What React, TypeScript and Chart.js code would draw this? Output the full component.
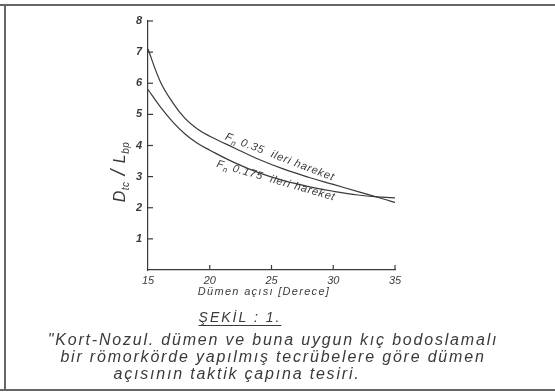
import React, { useEffect, useRef } from "react";
import { Chart, registerables } from "chart.js";

Chart.register(...registerables);

// Rudder angle (degrees) and tactical diameter ratio Dtc/Lbp
const rudderAngles = [15, 16, 17, 18, 19, 20, 22, 24, 26, 28, 30, 32, 34, 35];
const fn035 = [7.1, 6.05, 5.38, 4.87, 4.53, 4.3, 3.92, 3.55, 3.24, 2.98, 2.75, 2.52, 2.29, 2.17];
const fn0175 = [5.8, 5.24, 4.76, 4.37, 4.07, 3.85, 3.45, 3.12, 2.87, 2.68, 2.53, 2.41, 2.34, 2.32];

const xTicks = [15, 20, 25, 30, 35];
const yTicks = [1, 2, 3, 4, 5, 6, 7, 8];

const curveLabels = [
  { main: "F", sub: "n", rest: " 0.35  ileri hareket", x: 21.2, y: 4.2, angle: 21 },
  { main: "F", sub: "n", rest: " 0.175  ileri hareket", x: 20.5, y: 3.32, angle: 16 },
];

const INK = "#3a3a3a";
const HAND = "'Liberation Sans', 'DejaVu Sans', sans-serif";

const decorPlugin = {
  id: "decor",
  afterDraw(chart: any) {
    const { ctx, scales } = chart;
    const xs = scales.x;
    const ys = scales.y;
    ctx.save();
    ctx.strokeStyle = INK;
    ctx.lineWidth = 1.2;
    // inward tick marks
    yTicks.forEach((v) => {
      const py = ys.getPixelForValue(v);
      ctx.beginPath();
      ctx.moveTo(xs.left, py);
      ctx.lineTo(xs.left + 5, py);
      ctx.stroke();
    });
    xTicks.slice(1).forEach((v) => {
      const px = xs.getPixelForValue(v);
      ctx.beginPath();
      ctx.moveTo(px, ys.bottom);
      ctx.lineTo(px, ys.bottom - 5);
      ctx.stroke();
    });

    // curve labels
    ctx.fillStyle = INK;
    (ctx as any).letterSpacing = "0.8px";
    curveLabels.forEach((l) => {
      const px = xs.getPixelForValue(l.x);
      const py = ys.getPixelForValue(l.y);
      ctx.save();
      ctx.translate(px, py);
      ctx.rotate((l.angle * Math.PI) / 180);
      ctx.textBaseline = "alphabetic";
      ctx.font = `italic 11px ${HAND}`;
      ctx.fillText(l.main, 0, 0);
      let w = ctx.measureText(l.main).width;
      ctx.font = `italic 8px ${HAND}`;
      ctx.fillText(l.sub, w, 3);
      w += ctx.measureText(l.sub).width;
      ctx.font = `italic 11px ${HAND}`;
      ctx.fillText(l.rest, w, 0);
      ctx.restore();
    });

    // y-axis title Dtc / Lbp
    const parts = [
      { t: "D", size: 16, dy: 0 },
      { t: "tc", size: 10, dy: 4 },
      { t: " / ", size: 20, dy: 0 },
      { t: "L", size: 16, dy: 0 },
      { t: "bp", size: 10, dy: 4 },
    ];
    (ctx as any).letterSpacing = "0.5px";
    let total = 0;
    parts.forEach((p) => {
      ctx.font = `italic ${p.size}px ${HAND}`;
      total += ctx.measureText(p.t).width;
    });
    ctx.save();
    ctx.translate(xs.left - 28, ys.getPixelForValue(3.15));
    ctx.rotate(-Math.PI / 2);
    let cx = -total / 2;
    parts.forEach((p) => {
      ctx.font = `italic ${p.size}px ${HAND}`;
      ctx.fillText(p.t, cx, p.dy + 5);
      cx += ctx.measureText(p.t).width;
    });
    ctx.restore();
    ctx.restore();
  },
};

export default function App() {
  const ref = useRef<HTMLCanvasElement>(null);

  useEffect(() => {
    if (!ref.current) return;
    const chart = new Chart(ref.current, {
      type: "line",
      data: {
        datasets: [
          {
            label: "Fn 0.35 ileri hareket",
            data: rudderAngles.map((a, i) => ({ x: a, y: fn035[i] })),
            borderColor: INK,
            borderWidth: 1.2,
            pointRadius: 0,
            tension: 0.4,
          },
          {
            label: "Fn 0.175 ileri hareket",
            data: rudderAngles.map((a, i) => ({ x: a, y: fn0175[i] })),
            borderColor: INK,
            borderWidth: 1.2,
            pointRadius: 0,
            tension: 0.4,
          },
        ],
      },
      options: {
        animation: false,
        responsive: false,
        devicePixelRatio: 1,
        layout: { padding: { left: 0, right: 160, top: 21, bottom: 0 } },
        plugins: { legend: { display: false }, tooltip: { enabled: false } },
        scales: {
          x: {
            type: "linear",
            min: 15,
            max: 35,
            afterFit: (s: any) => {
              s.height = 122;
            },
            afterBuildTicks: (s: any) => {
              s.ticks = xTicks.map((v) => ({ value: v }));
            },
            grid: { display: false, drawTicks: false },
            border: { display: true, color: INK, width: 1.2 },
            ticks: {
              padding: 4,
              color: INK,
              font: { family: HAND, size: 11, style: "italic" },
            },
          },
          y: {
            type: "linear",
            min: 0,
            max: 8,
            afterFit: (s: any) => {
              s.width = 148;
            },
            afterBuildTicks: (s: any) => {
              s.ticks = yTicks.map((v) => ({ value: v }));
            },
            grid: { display: false, drawTicks: false },
            border: { display: true, color: INK, width: 1.2 },
            ticks: {
              padding: 6,
              color: INK,
              font: { family: HAND, size: 11, style: "italic", weight: "bold" },
            },
          },
        },
      },
      plugins: [decorPlugin],
    } as any);
    return () => chart.destroy();
  }, []);

  const text = (top: number, center: number, size: number, spacing: number, content: string, extra: any = {}) => (
    <div
      style={{
        position: "absolute",
        top,
        left: center - 300,
        width: 600,
        textAlign: "center",
        fontFamily: HAND,
        fontStyle: "italic",
        fontSize: size,
        letterSpacing: spacing,
        color: INK,
        lineHeight: `${size + 2}px`,
        whiteSpace: "nowrap",
        ...extra,
      }}
    >
      {content}
    </div>
  );

  return (
    <div
      style={{
        position: "fixed",
        left: 0,
        top: 0,
        width: 555,
        height: 392,
        background: "#ffffff",
        overflow: "hidden",
      }}
    >
      <canvas ref={ref} width={555} height={392} style={{ position: "absolute", left: 0, top: 0 }} />
      <div style={{ position: "absolute", left: 0, top: 4, width: 555, height: 2, background: "#666" }} />
      <div style={{ position: "absolute", left: 4, top: 4, width: 2, height: 387, background: "#666" }} />
      <div style={{ position: "absolute", left: 0, top: 389, width: 555, height: 2, background: "#666" }} />
      {text(285, 264, 11, 1.3, "Dümen açısı [Derece]")}
      {text(309, 240, 14, 2, "ŞEKİL : 1.", { textDecoration: "underline", textUnderlineOffset: "3px" })}
      {text(331, 273, 16, 1.8, "\"Kort-Nozul. dümen ve buna uygun kıç bodoslamalı")}
      {text(348, 273, 16, 1.8, "bir römorkörde yapılmış tecrübelere göre dümen")}
      {text(365, 237, 16, 1.8, "açısının taktik çapına tesiri.")}
    </div>
  );
}
